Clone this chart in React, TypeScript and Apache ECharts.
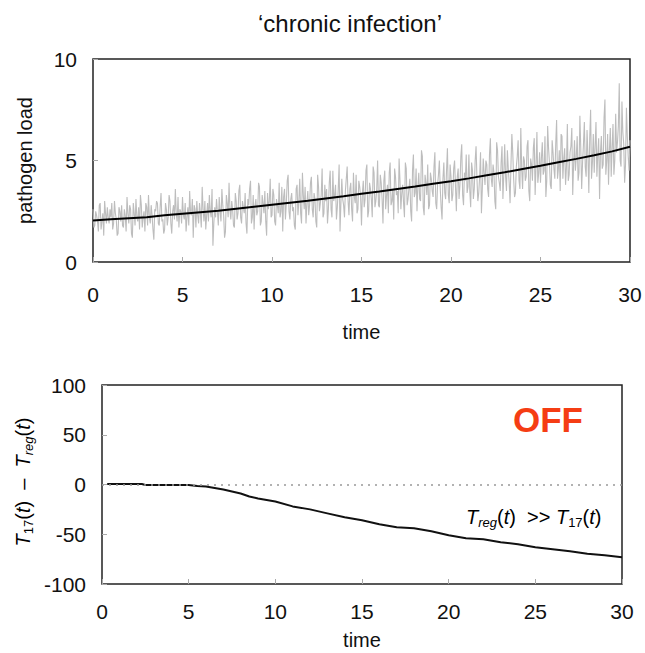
import React, { useEffect, useRef } from "react";
import * as echarts from "echarts";

const xTicks = [0, 5, 10, 15, 20, 25, 30];
const noiseStep = 0.1;
// pathogen load samples at t = 0, 0.1, 0.2, ... 30
const pathogenNoisy = [
  2.6,1.8,2.3,1.5,2.9,2.0,1.3,2.4,2.7,1.9,
  2.2,1.6,3.0,2.1,1.4,2.5,2.8,1.7,2.3,3.2,
  1.9,2.6,1.2,2.4,3.1,2.0,1.6,2.8,2.2,1.5,
  2.7,3.3,1.9,2.3,1.1,2.5,2.9,1.8,3.4,2.1,
  1.6,2.6,2.2,3.0,1.4,2.8,3.6,2.0,1.7,2.5,
  3.2,2.1,1.5,2.7,3.5,2.3,1.2,2.6,3.0,1.9,
  2.4,3.7,2.0,1.6,2.9,3.3,2.2,0.8,2.7,3.1,
  1.8,2.5,3.6,2.3,1.5,2.9,3.9,2.1,2.6,1.7,
  3.0,2.4,3.8,1.9,2.7,3.4,1.4,2.8,4.0,2.2,
  1.6,3.1,2.5,3.7,2.0,2.9,3.5,1.3,2.6,4.1,
  2.3,3.3,1.8,2.8,3.9,2.5,1.5,3.6,2.9,4.3,
  2.1,3.4,2.7,1.6,3.8,3.0,2.4,4.4,2.6,1.9,
  3.5,2.8,4.2,2.2,3.1,1.7,3.7,2.9,4.6,2.4,
  3.0,1.9,3.9,2.6,4.5,3.3,2.1,3.6,1.5,4.1,
  2.8,3.5,4.7,2.3,3.9,2.0,3.2,4.3,2.6,3.7,
  1.8,4.0,3.1,4.8,2.5,3.6,2.2,4.4,3.0,5.0,
  2.7,3.9,1.9,4.5,3.3,2.4,4.9,3.0,2.1,4.2,
  3.5,5.1,2.6,3.8,2.2,4.6,3.1,4.1,2.0,5.3,
  3.4,2.5,4.4,3.0,5.2,2.3,3.9,4.8,2.8,4.1,
  3.2,5.4,2.6,4.3,3.6,2.1,4.9,3.1,5.6,2.9,
  4.2,3.3,5.0,2.5,4.6,3.8,5.8,2.8,4.0,3.4,
  5.3,2.7,4.5,3.6,5.7,3.0,4.2,2.4,5.1,3.8,
  4.8,3.2,6.1,3.7,4.4,2.6,5.5,3.9,4.9,3.1,
  5.8,3.5,4.6,2.9,6.3,4.1,3.4,5.2,4.0,6.6,
  3.6,5.0,4.2,6.0,3.0,4.8,5.6,3.3,6.4,4.4,
  3.9,5.9,4.5,3.2,6.7,4.9,3.6,5.4,4.1,7.0,
  4.6,3.5,6.2,5.1,3.8,6.8,4.3,5.7,3.3,6.0,
  5.2,4.0,7.2,3.6,5.8,4.7,6.5,3.4,7.5,4.9,
  4.4,6.9,5.3,3.1,6.2,4.8,8.0,5.0,3.8,6.6,
  5.6,4.3,7.3,5.9,8.8,4.7,6.4,3.9,7.6,5.2,
  6.0,
];
// pathogen load samples at t = 0.05, 0.15, ... 29.95
const pathogenNoisyMid = [
  1.7,2.5,2.0,2.8,1.6,2.4,3.0,1.9,2.2,2.6,
  2.9,1.9,2.4,1.3,2.7,2.0,1.8,2.6,1.5,2.4,
  2.8,1.4,2.9,1.8,2.2,2.7,3.3,1.7,2.5,2.9,
  1.8,2.2,2.8,1.6,2.6,3.0,1.9,2.7,2.0,1.4,
  2.9,1.8,3.3,1.9,2.5,2.1,2.4,3.2,2.6,1.9,
  2.3,2.9,2.2,1.8,2.4,3.1,2.8,1.7,2.3,2.9,
  1.7,2.6,3.0,2.3,2.0,2.5,3.6,1.9,2.2,2.5,
  3.2,2.0,2.8,1.2,3.3,2.2,2.6,3.0,1.8,3.4,
  2.1,3.5,2.2,3.0,2.4,1.9,3.1,3.6,1.9,3.3,
  2.8,2.3,3.9,1.8,3.3,2.4,2.0,3.4,3.0,2.2,
  3.6,2.0,3.1,2.4,2.2,3.7,3.2,2.1,4.0,2.5,
  3.1,2.5,1.8,3.6,2.3,4.1,1.9,3.3,3.7,2.9,
  2.3,3.9,2.6,3.4,2.0,4.3,2.5,3.3,2.2,3.8,
  3.6,2.6,4.5,2.2,3.0,3.8,2.7,4.8,2.9,3.1,
  2.2,4.1,3.0,3.6,2.6,4.4,2.9,2.4,4.0,3.2,
  3.4,2.7,4.5,2.2,3.9,3.1,4.7,2.7,3.6,2.8,
  4.3,3.1,4.0,2.6,3.8,4.4,2.8,3.6,4.6,3.3,
  2.4,4.0,3.4,2.9,4.9,2.8,3.6,2.5,4.5,3.2,
  4.6,3.7,3.1,5.5,2.7,4.3,3.3,2.6,4.4,3.5,
  4.7,2.9,3.8,5.0,2.7,4.1,3.4,4.5,3.3,4.8,
  3.0,4.6,3.7,4.2,3.1,5.2,3.3,4.4,5.3,3.7,
  3.5,4.9,3.1,5.0,4.1,3.4,5.4,3.6,4.4,5.0,
  3.6,5.3,4.1,4.8,3.0,5.9,4.2,3.5,5.7,4.3,
  4.2,5.5,3.9,4.8,5.4,3.2,4.7,6.0,3.6,4.6,
  5.2,4.0,5.7,3.5,5.1,4.0,6.1,4.7,3.9,5.4,
  5.1,4.3,6.2,4.0,5.6,3.8,6.0,4.6,5.8,4.1,
  5.5,6.3,4.1,5.6,4.7,4.0,5.4,6.6,4.8,4.5,
  6.2,4.4,5.6,4.9,6.9,4.2,5.3,6.1,4.1,6.3,
  5.7,4.2,6.1,5.4,4.6,7.1,4.3,6.3,5.5,4.2,
  6.8,5.0,5.4,6.7,5.0,7.9,5.8,4.8,6.2,4.5,
];
const meanTime = [0,1,2,3,4,5,6,7,8,9,10,11,12,13,14,15,16,17,18,19,20,21,22,23,24,25,26,27,28,29,30];
const pathogenMean = [2.05,2.1,2.15,2.2,2.3,2.38,2.45,2.52,2.62,2.72,2.82,2.92,3.02,3.13,3.24,3.36,3.47,3.6,3.72,3.85,3.98,4.12,4.27,4.42,4.58,4.74,4.91,5.08,5.26,5.45,5.68];
const diffTime = [0.3,2.3,2.5,5,5.5,6,7,8,8.5,9,10,11,12,13,14,15,16,17,18,19,20,21,22,23,24,25,26,27,28,29,30];
const diffValues = [0.5,0.5,-0.5,-0.5,-1.5,-2,-5,-9,-12,-14,-17,-22,-25,-29,-33,-36,-40,-43,-44,-47,-51,-54,-55,-58,-60,-63,-65,-67,-69.5,-71,-73];

const FONT = "'Liberation Sans', Arial, Helvetica, sans-serif";

export default function App() {
  const ref = useRef<HTMLDivElement>(null);
  useEffect(() => {
    if (!ref.current) return;
    const chart = echarts.init(ref.current, undefined, { renderer: "svg" });
    const label = { fontSize: 21, color: "#111", fontFamily: FONT };
    const tick = { show: true, inside: true, length: 5, lineStyle: { color: "#aaa", width: 1 } };
    const xBase = {
      type: "value" as const,
      min: xTicks[0],
      max: xTicks[xTicks.length - 1],
      interval: 5,
      axisLine: { show: false, onZero: false },
      axisTick: tick,
      splitLine: { show: false },
      name: "time",
      nameLocation: "middle" as const,
      nameTextStyle: { fontSize: 20, color: "#111", fontFamily: FONT },
    };
    const rich = {
      n: { fontSize: 20, fontFamily: FONT, color: "#111", lineHeight: 24 },
      i: { fontSize: 20, fontFamily: FONT, color: "#111", fontStyle: "italic", lineHeight: 24 },
      s: { fontSize: 13, fontFamily: FONT, color: "#111", lineHeight: 15, verticalAlign: "bottom" },
      si: { fontSize: 13, fontFamily: FONT, color: "#111", fontStyle: "italic", lineHeight: 15, verticalAlign: "bottom" },
    };
    const noisy: number[][] = [];
    pathogenNoisy.forEach((v, i) => {
      noisy.push([i * noiseStep, v]);
      if (i < pathogenNoisyMid.length) noisy.push([i * noiseStep + noiseStep / 2, pathogenNoisyMid[i]]);
    });
    chart.setOption({
      animation: false,
      grid: [
        { left: 93, top: 59, width: 537, height: 203, show: true, borderColor: "#222", borderWidth: 1.5 },
        { left: 102, top: 385, width: 520, height: 199, show: true, borderColor: "#222", borderWidth: 1.5 },
      ],
      xAxis: [
        { ...xBase, gridIndex: 0, axisLabel: { ...label, margin: 22 }, nameGap: 60 },
        { ...xBase, gridIndex: 1, axisLabel: { ...label, margin: 17 }, nameGap: 46 },
      ],
      yAxis: [
        {
          type: "value", gridIndex: 0, min: 0, max: 10, interval: 5,
          axisLine: { show: false, onZero: false }, axisTick: tick, splitLine: { show: false },
          axisLabel: { ...label, margin: 16 },
          name: "pathogen load", nameLocation: "middle", nameGap: 58,
          nameTextStyle: { fontSize: 20, color: "#111", fontFamily: FONT },
        },
        {
          type: "value", gridIndex: 1, min: -100, max: 100, interval: 50,
          axisLine: { show: false, onZero: false }, axisTick: tick, splitLine: { show: false },
          axisLabel: { ...label, margin: 16 },
        },
      ],
      series: [
        {
          type: "line", xAxisIndex: 0, yAxisIndex: 0, showSymbol: false, silent: true,
          data: noisy,
          lineStyle: { color: "#bdbdbd", width: 1.1 },
        },
        {
          type: "line", xAxisIndex: 0, yAxisIndex: 0, showSymbol: false, silent: true,
          data: meanTime.map((t, i) => [t, pathogenMean[i]]),
          lineStyle: { color: "#000", width: 2 },
        },
        {
          type: "line", xAxisIndex: 1, yAxisIndex: 1, showSymbol: false, silent: true,
          data: diffTime.map((t, i) => [t, diffValues[i]]),
          lineStyle: { color: "#111", width: 2 },
          markLine: {
            silent: true, symbol: "none", label: { show: false },
            lineStyle: { color: "#999", type: [2, 5], width: 1.5 },
            data: [{ yAxis: 0 }],
          },
        },
      ],
      graphic: [
        {
          type: "text", x: 350, y: 23,
          style: { text: "\u2018chronic infection\u2019", fontSize: 24, fontFamily: FONT, fill: "#111", align: "center", verticalAlign: "middle" },
        },
        {
          type: "text", x: 548, y: 419,
          style: { text: "OFF", fontSize: 35, fontWeight: "bold", fontFamily: FONT, fill: "#f53d14", align: "center", verticalAlign: "middle" },
        },
        {
          type: "text", x: 466, y: 517,
          style: {
            text: "{i|T}{si|reg}{n|(}{i|t}{n|)  >> }{i|T}{s|17}{n|(}{i|t}{n|)}",
            rich, align: "left", verticalAlign: "middle",
          },
        },
        {
          type: "text", x: 23, y: 482, rotation: Math.PI / 2,
          style: {
            text: "{i|T}{s|17}{n|(}{i|t}{n|)  \u2013  }{i|T}{si|reg}{n|(}{i|t}{n|)}",
            rich, align: "center", verticalAlign: "middle",
          },
        },
      ],
    });
    return () => chart.dispose();
  }, []);
  return <div ref={ref} style={{ position: "absolute", left: 0, top: 0, width: 645, height: 653 }} />;
}
